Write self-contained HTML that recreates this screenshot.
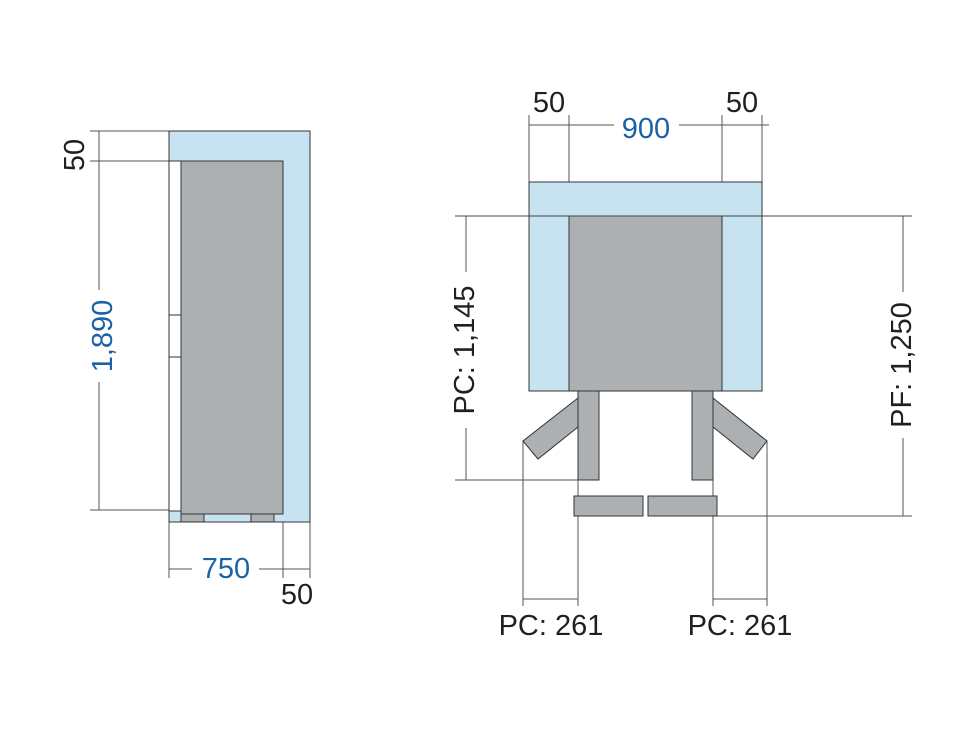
<!DOCTYPE html>
<html><head><meta charset="utf-8"><style>
html,body{margin:0;padding:0;background:#fff;}
svg{display:block;}
text{font-family:"Liberation Sans",sans-serif;font-size:29px;}
</style></head><body>
<svg width="976" height="730" viewBox="0 0 976 730" xmlns="http://www.w3.org/2000/svg">
<g stroke="#555" stroke-width="1" fill="none">
<line x1="90" y1="131" x2="170" y2="131"/>
<line x1="90" y1="161" x2="181" y2="161"/>
<line x1="90" y1="510" x2="181" y2="510"/>
<line x1="99" y1="131" x2="99" y2="290"/>
<line x1="99" y1="382" x2="99" y2="510"/>
<line x1="169" y1="522" x2="169" y2="578"/>
<line x1="283" y1="514" x2="283" y2="578"/>
<line x1="310" y1="522" x2="310" y2="578"/>
<line x1="169" y1="569" x2="192" y2="569"/>
<line x1="259" y1="569" x2="310" y2="569"/>
<line x1="529" y1="115" x2="529" y2="182"/>
<line x1="569" y1="115" x2="569" y2="182"/>
<line x1="722" y1="115" x2="722" y2="182"/>
<line x1="762" y1="115" x2="762" y2="182"/>
<line x1="529" y1="125" x2="614" y2="125"/>
<line x1="679" y1="125" x2="769" y2="125"/>
<line x1="466" y1="216" x2="466" y2="272"/>
<line x1="466" y1="428" x2="466" y2="480"/>
<line x1="455" y1="480" x2="598" y2="480"/>
<line x1="903" y1="216" x2="903" y2="292"/>
<line x1="903" y1="438" x2="903" y2="516"/>
<line x1="717" y1="516" x2="912" y2="516"/>
<line x1="523" y1="441" x2="523" y2="606"/>
<line x1="578" y1="480" x2="578" y2="606"/>
<line x1="713" y1="480" x2="713" y2="606"/>
<line x1="767" y1="441" x2="767" y2="606"/>
<line x1="523" y1="599" x2="578" y2="599"/>
<line x1="713" y1="599" x2="767" y2="599"/>
</g>
<rect x="169" y="131" width="141" height="391" fill="#c7e3f1" stroke="#333" stroke-width="1"/>
<rect x="169" y="161" width="12" height="350" fill="#fff" stroke="#333" stroke-width="1"/>
<line x1="169" y1="315" x2="181" y2="315" stroke="#333"/>
<line x1="169" y1="357" x2="181" y2="357" stroke="#333"/>
<rect x="181" y="161" width="102" height="353" fill="#adb0b3" stroke="#333" stroke-width="1"/>
<rect x="181" y="514" width="23" height="8" fill="#adb0b3" stroke="#333" stroke-width="1"/>
<rect x="251" y="514" width="23" height="8" fill="#adb0b3" stroke="#333" stroke-width="1"/>
<rect x="529" y="182" width="233" height="209" fill="#c7e3f1" stroke="#333" stroke-width="1"/>
<rect x="569" y="216" width="153" height="175" fill="#adb0b3" stroke="#333" stroke-width="1"/>
<line x1="455" y1="216" x2="912" y2="216" stroke="#444" stroke-width="1"/>
<rect x="578" y="391" width="21" height="89" fill="#adb0b3" stroke="#333" stroke-width="1"/>
<rect x="692" y="391" width="21" height="89" fill="#adb0b3" stroke="#333" stroke-width="1"/>
<polygon points="578,398 523,441 538,459 578,427" fill="#adb0b3" stroke="#333" stroke-width="1"/>
<polygon points="713,398 767,441 753,459 713,427" fill="#adb0b3" stroke="#333" stroke-width="1"/>
<rect x="574" y="496" width="69" height="20" fill="#adb0b3" stroke="#333" stroke-width="1"/>
<rect x="648" y="496" width="69" height="20" fill="#adb0b3" stroke="#333" stroke-width="1"/>
<text transform="translate(84,155) rotate(-90)" text-anchor="middle" fill="#231f20">50</text>
<text transform="translate(112,336) rotate(-90)" text-anchor="middle" fill="#1a62a8">1,890</text>
<text x="226" y="578" text-anchor="middle" fill="#1a62a8">750</text>
<text x="297" y="604" text-anchor="middle" fill="#231f20">50</text>
<text x="549" y="112" text-anchor="middle" fill="#231f20">50</text>
<text x="742" y="112" text-anchor="middle" fill="#231f20">50</text>
<text x="646" y="138" text-anchor="middle" fill="#1a62a8">900</text>
<text transform="translate(474,350) rotate(-90)" text-anchor="middle" fill="#231f20">PC: 1,145</text>
<text transform="translate(911,365) rotate(-90)" text-anchor="middle" fill="#231f20">PF: 1,250</text>
<text x="551" y="635" text-anchor="middle" fill="#231f20">PC: 261</text>
<text x="740" y="635" text-anchor="middle" fill="#231f20">PC: 261</text>
</svg>
</body></html>
